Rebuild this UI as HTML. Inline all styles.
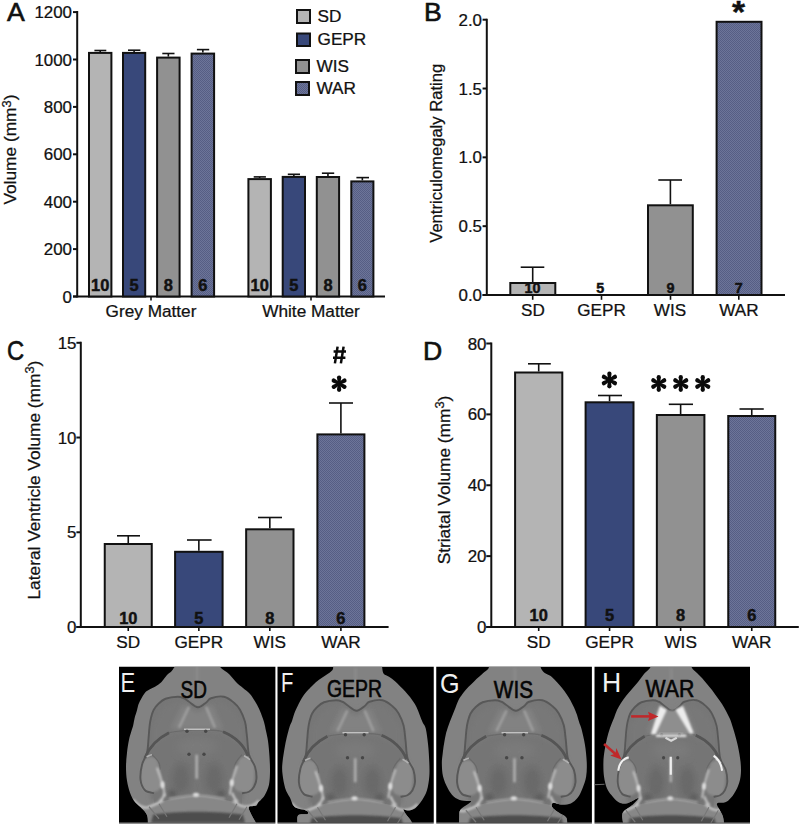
<!DOCTYPE html><html><head><meta charset="utf-8"><style>html,body{margin:0;padding:0;background:#fff;}svg{display:block;}text{font-family:"Liberation Sans", sans-serif;}</style></head><body>
<svg width="800" height="824" viewBox="0 0 800 824">
<defs>
<pattern id="hatch" width="2" height="2" patternUnits="userSpaceOnUse">
<rect width="2" height="2" fill="#6d7599"/>
<rect width="1" height="1" fill="#565e84"/><rect x="1" y="1" width="1" height="1" fill="#565e84"/>
</pattern>
<filter id="soft" filterUnits="userSpaceOnUse" x="-20" y="-20" width="200" height="200"><feGaussianBlur stdDeviation="0.6"/></filter>
<filter id="blur1" filterUnits="userSpaceOnUse" x="-20" y="-20" width="200" height="200"><feGaussianBlur stdDeviation="1"/></filter>
<filter id="blur2" filterUnits="userSpaceOnUse" x="-20" y="-20" width="200" height="200"><feGaussianBlur stdDeviation="2"/></filter>
<filter id="blur3" filterUnits="userSpaceOnUse" x="-20" y="-20" width="200" height="200"><feGaussianBlur stdDeviation="4"/></filter>
</defs>
<rect width="800" height="824" fill="#fff"/>
<text transform="translate(7,21) scale(1.025,1)" font-size="26" text-anchor="start" font-weight="normal" fill="#111" stroke="#111" stroke-width="0.6" >A</text>
<line x1="77.2" y1="11.1" x2="77.2" y2="297.5" stroke="#111" stroke-width="2"/>
<line x1="73" y1="296.5" x2="77.2" y2="296.5" stroke="#111" stroke-width="2"/>
<text transform="translate(72,302.6) scale(1.025,1)" font-size="16.5" text-anchor="end" font-weight="normal" fill="#111" stroke="#111" stroke-width="0.25" >0</text>
<line x1="73" y1="249.1" x2="77.2" y2="249.1" stroke="#111" stroke-width="2"/>
<text transform="translate(72,255.2) scale(1.025,1)" font-size="16.5" text-anchor="end" font-weight="normal" fill="#111" stroke="#111" stroke-width="0.25" >200</text>
<line x1="73" y1="201.7" x2="77.2" y2="201.7" stroke="#111" stroke-width="2"/>
<text transform="translate(72,207.79999999999998) scale(1.025,1)" font-size="16.5" text-anchor="end" font-weight="normal" fill="#111" stroke="#111" stroke-width="0.25" >400</text>
<line x1="73" y1="154.3" x2="77.2" y2="154.3" stroke="#111" stroke-width="2"/>
<text transform="translate(72,160.4) scale(1.025,1)" font-size="16.5" text-anchor="end" font-weight="normal" fill="#111" stroke="#111" stroke-width="0.25" >600</text>
<line x1="73" y1="106.9" x2="77.2" y2="106.9" stroke="#111" stroke-width="2"/>
<text transform="translate(72,113.0) scale(1.025,1)" font-size="16.5" text-anchor="end" font-weight="normal" fill="#111" stroke="#111" stroke-width="0.25" >800</text>
<line x1="73" y1="59.5" x2="77.2" y2="59.5" stroke="#111" stroke-width="2"/>
<text transform="translate(72,65.6) scale(1.025,1)" font-size="16.5" text-anchor="end" font-weight="normal" fill="#111" stroke="#111" stroke-width="0.25" >1000</text>
<line x1="73" y1="12.100000000000023" x2="77.2" y2="12.100000000000023" stroke="#111" stroke-width="2"/>
<text transform="translate(72,18.200000000000024) scale(1.025,1)" font-size="16.5" text-anchor="end" font-weight="normal" fill="#111" stroke="#111" stroke-width="0.25" >1200</text>
<line x1="73" y1="296.5" x2="385" y2="296.5" stroke="#111" stroke-width="2"/>
<line x1="151" y1="296.5" x2="151" y2="300.5" stroke="#111" stroke-width="1.6"/>
<line x1="311" y1="296.5" x2="311" y2="300.5" stroke="#111" stroke-width="1.6"/>
<line x1="100.2" y1="51.9" x2="100.2" y2="50.5" stroke="#111" stroke-width="1.6"/>
<line x1="94.4" y1="50.5" x2="106.3" y2="50.5" stroke="#111" stroke-width="1.6"/>
<rect x="89.0" y="52.9" width="22.400000000000006" height="243.6" fill="#b4b4b4" stroke="#111" stroke-width="2"/>
<text transform="translate(100.2,291) scale(1.025,1)" font-size="16" text-anchor="middle" font-weight="bold" fill="#111" stroke="#111" stroke-width="0.45" >10</text>
<line x1="134.1" y1="51.9" x2="134.1" y2="50.2" stroke="#111" stroke-width="1.6"/>
<line x1="128" y1="50.2" x2="140.4" y2="50.2" stroke="#111" stroke-width="1.6"/>
<rect x="123.0" y="52.9" width="22.19999999999999" height="243.6" fill="#38487a" stroke="#111" stroke-width="2"/>
<text transform="translate(134.1,291) scale(1.025,1)" font-size="16" text-anchor="middle" font-weight="bold" fill="#111" stroke="#111" stroke-width="0.45" >5</text>
<line x1="168.35" y1="56.6" x2="168.35" y2="53.5" stroke="#111" stroke-width="1.6"/>
<line x1="162.3" y1="53.5" x2="174.5" y2="53.5" stroke="#111" stroke-width="1.6"/>
<rect x="157.1" y="57.6" width="22.5" height="238.9" fill="#919191" stroke="#111" stroke-width="2"/>
<text transform="translate(168.35,291) scale(1.025,1)" font-size="16" text-anchor="middle" font-weight="bold" fill="#111" stroke="#111" stroke-width="0.45" >8</text>
<line x1="202.85" y1="52.6" x2="202.85" y2="49.6" stroke="#111" stroke-width="1.6"/>
<line x1="196.9" y1="49.6" x2="209.2" y2="49.6" stroke="#111" stroke-width="1.6"/>
<rect x="191.6" y="53.6" width="22.5" height="242.9" fill="url(#hatch)" stroke="#111" stroke-width="2"/>
<text transform="translate(202.85,291) scale(1.025,1)" font-size="16" text-anchor="middle" font-weight="bold" fill="#111" stroke="#111" stroke-width="0.45" >6</text>
<line x1="259.65" y1="178.1" x2="259.65" y2="176.9" stroke="#111" stroke-width="1.6"/>
<line x1="253.7" y1="176.9" x2="265.9" y2="176.9" stroke="#111" stroke-width="1.6"/>
<rect x="248.4" y="179.1" width="22.49999999999997" height="117.4" fill="#b4b4b4" stroke="#111" stroke-width="2"/>
<text transform="translate(259.65,291) scale(1.025,1)" font-size="16" text-anchor="middle" font-weight="bold" fill="#111" stroke="#111" stroke-width="0.45" >10</text>
<line x1="293.85" y1="175.9" x2="293.85" y2="174.3" stroke="#111" stroke-width="1.6"/>
<line x1="287.8" y1="174.3" x2="300" y2="174.3" stroke="#111" stroke-width="1.6"/>
<rect x="282.7" y="176.9" width="22.30000000000001" height="119.6" fill="#38487a" stroke="#111" stroke-width="2"/>
<text transform="translate(293.85,291) scale(1.025,1)" font-size="16" text-anchor="middle" font-weight="bold" fill="#111" stroke="#111" stroke-width="0.45" >5</text>
<line x1="327.95000000000005" y1="176" x2="327.95000000000005" y2="173.2" stroke="#111" stroke-width="1.6"/>
<line x1="321.9" y1="173.2" x2="334.2" y2="173.2" stroke="#111" stroke-width="1.6"/>
<rect x="316.8" y="177.0" width="22.30000000000001" height="119.5" fill="#919191" stroke="#111" stroke-width="2"/>
<text transform="translate(327.95000000000005,291) scale(1.025,1)" font-size="16" text-anchor="middle" font-weight="bold" fill="#111" stroke="#111" stroke-width="0.45" >8</text>
<line x1="362.35" y1="180.4" x2="362.35" y2="177.6" stroke="#111" stroke-width="1.6"/>
<line x1="356.4" y1="177.6" x2="369" y2="177.6" stroke="#111" stroke-width="1.6"/>
<rect x="351.3" y="181.4" width="22.099999999999966" height="115.1" fill="url(#hatch)" stroke="#111" stroke-width="2"/>
<text transform="translate(362.35,291) scale(1.025,1)" font-size="16" text-anchor="middle" font-weight="bold" fill="#111" stroke="#111" stroke-width="0.45" >6</text>
<text transform="translate(151,316.5) scale(1.025,1)" font-size="16.8" text-anchor="middle" font-weight="normal" fill="#111" stroke="#111" stroke-width="0.25" >Grey Matter</text>
<text transform="translate(311,316.5) scale(1.025,1)" font-size="16.8" text-anchor="middle" font-weight="normal" fill="#111" stroke="#111" stroke-width="0.25" >White Matter</text>
<text transform="translate(16.2,149.6) rotate(-90) scale(1.03,1)" x="0" y="0" font-size="16.8" text-anchor="middle" fill="#111" stroke="#111" stroke-width="0.25">Volume (mm<tspan font-size="12.5" dy="-5.6">3</tspan><tspan dy="5.6">)</tspan></text>
<rect x="297" y="10" width="13" height="13" fill="#b4b4b4" stroke="#111" stroke-width="2"/>
<text transform="translate(317.5,21.5) scale(1.025,1)" font-size="16.8" text-anchor="start" font-weight="normal" fill="#111" stroke="#111" stroke-width="0.25" >SD</text>
<rect x="297" y="33.5" width="13" height="12.5" fill="#38487a" stroke="#111" stroke-width="2"/>
<text transform="translate(317.5,44.5) scale(1.025,1)" font-size="16.8" text-anchor="start" font-weight="normal" fill="#111" stroke="#111" stroke-width="0.25" >GEPR</text>
<rect x="296" y="60" width="13" height="13" fill="#919191" stroke="#111" stroke-width="2"/>
<text transform="translate(316.5,71.5) scale(1.025,1)" font-size="16.8" text-anchor="start" font-weight="normal" fill="#111" stroke="#111" stroke-width="0.25" >WIS</text>
<rect x="296" y="82" width="13" height="13" fill="url(#hatch)" stroke="#111" stroke-width="2"/>
<text transform="translate(316.5,93.5) scale(1.025,1)" font-size="16.8" text-anchor="start" font-weight="normal" fill="#111" stroke="#111" stroke-width="0.25" >WAR</text>
<text transform="translate(424,21) scale(1.025,1)" font-size="26" text-anchor="start" font-weight="normal" fill="#111" stroke="#111" stroke-width="0.6" >B</text>
<line x1="486.8" y1="18.7" x2="486.8" y2="296" stroke="#111" stroke-width="2"/>
<line x1="482.6" y1="295.0" x2="486.8" y2="295.0" stroke="#111" stroke-width="2"/>
<text transform="translate(482,301.1) scale(1.025,1)" font-size="16.5" text-anchor="end" font-weight="normal" fill="#111" stroke="#111" stroke-width="0.25" >0.0</text>
<line x1="482.6" y1="226.175" x2="486.8" y2="226.175" stroke="#111" stroke-width="2"/>
<text transform="translate(482,232.275) scale(1.025,1)" font-size="16.5" text-anchor="end" font-weight="normal" fill="#111" stroke="#111" stroke-width="0.25" >0.5</text>
<line x1="482.6" y1="157.35" x2="486.8" y2="157.35" stroke="#111" stroke-width="2"/>
<text transform="translate(482,163.45) scale(1.025,1)" font-size="16.5" text-anchor="end" font-weight="normal" fill="#111" stroke="#111" stroke-width="0.25" >1.0</text>
<line x1="482.6" y1="88.52499999999998" x2="486.8" y2="88.52499999999998" stroke="#111" stroke-width="2"/>
<text transform="translate(482,94.62499999999997) scale(1.025,1)" font-size="16.5" text-anchor="end" font-weight="normal" fill="#111" stroke="#111" stroke-width="0.25" >1.5</text>
<line x1="482.6" y1="19.69999999999999" x2="486.8" y2="19.69999999999999" stroke="#111" stroke-width="2"/>
<text transform="translate(482,25.79999999999999) scale(1.025,1)" font-size="16.5" text-anchor="end" font-weight="normal" fill="#111" stroke="#111" stroke-width="0.25" >2.0</text>
<line x1="482.6" y1="295" x2="785" y2="295" stroke="#111" stroke-width="2"/>
<line x1="532.7" y1="295" x2="532.7" y2="299.8" stroke="#111" stroke-width="1.6"/>
<line x1="601.5" y1="295" x2="601.5" y2="299.8" stroke="#111" stroke-width="1.6"/>
<line x1="670.5" y1="295" x2="670.5" y2="299.8" stroke="#111" stroke-width="1.6"/>
<line x1="738.8" y1="295" x2="738.8" y2="299.8" stroke="#111" stroke-width="1.6"/>
<line x1="532.7" y1="282" x2="532.7" y2="267.2" stroke="#111" stroke-width="1.6"/>
<line x1="520.7" y1="267.2" x2="544.3" y2="267.2" stroke="#111" stroke-width="1.6"/>
<rect x="510.3" y="283.0" width="44.99999999999994" height="12.0" fill="#b4b4b4" stroke="#111" stroke-width="2"/>
<line x1="670.4" y1="204.3" x2="670.4" y2="180" stroke="#111" stroke-width="1.6"/>
<line x1="658.3" y1="180" x2="682" y2="180" stroke="#111" stroke-width="1.6"/>
<rect x="648.0" y="205.3" width="44.799999999999955" height="89.69999999999999" fill="#919191" stroke="#111" stroke-width="2"/>
<rect x="716.6" y="21.8" width="44.89999999999998" height="273.2" fill="url(#hatch)" stroke="#111" stroke-width="2"/>
<text transform="translate(532.5,293.3) scale(1.025,1)" font-size="14" text-anchor="middle" font-weight="bold" fill="#111" stroke="#111" stroke-width="0.45" >10</text>
<text transform="translate(600.3,293.3) scale(1.025,1)" font-size="14" text-anchor="middle" font-weight="bold" fill="#111" stroke="#111" stroke-width="0.45" >5</text>
<text transform="translate(670.5,293.3) scale(1.025,1)" font-size="14" text-anchor="middle" font-weight="bold" fill="#111" stroke="#111" stroke-width="0.45" >9</text>
<text transform="translate(738.8,293.3) scale(1.025,1)" font-size="14" text-anchor="middle" font-weight="bold" fill="#111" stroke="#111" stroke-width="0.45" >7</text>
<text transform="translate(533,316.3) scale(1.025,1)" font-size="16.7" text-anchor="middle" font-weight="normal" fill="#111" stroke="#111" stroke-width="0.25" >SD</text>
<text transform="translate(601.5,316.3) scale(1.025,1)" font-size="16.7" text-anchor="middle" font-weight="normal" fill="#111" stroke="#111" stroke-width="0.25" >GEPR</text>
<text transform="translate(670,316.3) scale(1.025,1)" font-size="16.7" text-anchor="middle" font-weight="normal" fill="#111" stroke="#111" stroke-width="0.25" >WIS</text>
<text transform="translate(739,316.3) scale(1.025,1)" font-size="16.7" text-anchor="middle" font-weight="normal" fill="#111" stroke="#111" stroke-width="0.25" >WAR</text>
<text transform="translate(442,153.3) rotate(-90) scale(1.0,1)" x="0" y="0" font-size="16.6" text-anchor="middle" fill="#111" stroke="#111" stroke-width="0.25">Ventriculomegaly Rating</text>
<text transform="translate(738.6,22.5) scale(1.05,1)" font-size="32" text-anchor="middle" font-weight="bold" fill="#111" stroke="#111" stroke-width="0.45" >*</text>
<text transform="translate(6.9,360.2) scale(0.88,1)" font-size="27" text-anchor="start" font-weight="normal" fill="#111" stroke="#111" stroke-width="0.6" >C</text>
<line x1="80.8" y1="341.8" x2="80.8" y2="628" stroke="#111" stroke-width="2"/>
<line x1="76.4" y1="627.0" x2="80.8" y2="627.0" stroke="#111" stroke-width="2"/>
<text transform="translate(76.5,633.1) scale(1.025,1)" font-size="16.5" text-anchor="end" font-weight="normal" fill="#111" stroke="#111" stroke-width="0.25" >0</text>
<line x1="76.4" y1="532.2666666666667" x2="80.8" y2="532.2666666666667" stroke="#111" stroke-width="2"/>
<text transform="translate(76.5,538.3666666666667) scale(1.025,1)" font-size="16.5" text-anchor="end" font-weight="normal" fill="#111" stroke="#111" stroke-width="0.25" >5</text>
<line x1="76.4" y1="437.53333333333336" x2="80.8" y2="437.53333333333336" stroke="#111" stroke-width="2"/>
<text transform="translate(76.5,443.6333333333334) scale(1.025,1)" font-size="16.5" text-anchor="end" font-weight="normal" fill="#111" stroke="#111" stroke-width="0.25" >10</text>
<line x1="76.4" y1="342.8" x2="80.8" y2="342.8" stroke="#111" stroke-width="2"/>
<text transform="translate(76.5,348.90000000000003) scale(1.025,1)" font-size="16.5" text-anchor="end" font-weight="normal" fill="#111" stroke="#111" stroke-width="0.25" >15</text>
<line x1="76.4" y1="627" x2="388.6" y2="627" stroke="#111" stroke-width="2"/>
<line x1="128.25" y1="543" x2="128.25" y2="535.8" stroke="#111" stroke-width="1.6"/>
<line x1="117" y1="535.8" x2="140" y2="535.8" stroke="#111" stroke-width="1.6"/>
<rect x="104.75" y="544.0" width="47.0" height="83.0" fill="#b4b4b4" stroke="#111" stroke-width="2"/>
<text transform="translate(128.25,623.8) scale(1.025,1)" font-size="16" text-anchor="middle" font-weight="bold" fill="#111" stroke="#111" stroke-width="0.45" >10</text>
<line x1="128.25" y1="627" x2="128.25" y2="631" stroke="#111" stroke-width="1.6"/>
<text transform="translate(128.25,647.6) scale(1.025,1)" font-size="16.8" text-anchor="middle" font-weight="normal" fill="#111" stroke="#111" stroke-width="0.25" >SD</text>
<line x1="198.85" y1="550.8" x2="198.85" y2="540" stroke="#111" stroke-width="1.6"/>
<line x1="187" y1="540" x2="211.6" y2="540" stroke="#111" stroke-width="1.6"/>
<rect x="175.1" y="551.8" width="47.5" height="75.20000000000005" fill="#38487a" stroke="#111" stroke-width="2"/>
<text transform="translate(198.85,623.8) scale(1.025,1)" font-size="16" text-anchor="middle" font-weight="bold" fill="#111" stroke="#111" stroke-width="0.45" >5</text>
<line x1="198.85" y1="627" x2="198.85" y2="631" stroke="#111" stroke-width="1.6"/>
<text transform="translate(198.85,647.6) scale(1.025,1)" font-size="16.8" text-anchor="middle" font-weight="normal" fill="#111" stroke="#111" stroke-width="0.25" >GEPR</text>
<line x1="269.825" y1="528.3" x2="269.825" y2="517.5" stroke="#111" stroke-width="1.6"/>
<line x1="258" y1="517.5" x2="282" y2="517.5" stroke="#111" stroke-width="1.6"/>
<rect x="246.15" y="529.3" width="47.349999999999994" height="97.70000000000005" fill="#919191" stroke="#111" stroke-width="2"/>
<text transform="translate(269.825,623.8) scale(1.025,1)" font-size="16" text-anchor="middle" font-weight="bold" fill="#111" stroke="#111" stroke-width="0.45" >8</text>
<line x1="269.825" y1="627" x2="269.825" y2="631" stroke="#111" stroke-width="1.6"/>
<text transform="translate(269.825,647.6) scale(1.025,1)" font-size="16.8" text-anchor="middle" font-weight="normal" fill="#111" stroke="#111" stroke-width="0.25" >WIS</text>
<line x1="340.9" y1="433.4" x2="340.9" y2="403" stroke="#111" stroke-width="1.6"/>
<line x1="329" y1="403" x2="353" y2="403" stroke="#111" stroke-width="1.6"/>
<rect x="317.4" y="434.4" width="47.0" height="192.60000000000002" fill="url(#hatch)" stroke="#111" stroke-width="2"/>
<text transform="translate(340.9,623.8) scale(1.025,1)" font-size="16" text-anchor="middle" font-weight="bold" fill="#111" stroke="#111" stroke-width="0.45" >6</text>
<line x1="340.9" y1="627" x2="340.9" y2="631" stroke="#111" stroke-width="1.6"/>
<text transform="translate(340.9,647.6) scale(1.025,1)" font-size="16.8" text-anchor="middle" font-weight="normal" fill="#111" stroke="#111" stroke-width="0.25" >WAR</text>
<text transform="translate(40,480.1) rotate(-90) scale(1.03,1)" x="0" y="0" font-size="16.8" text-anchor="middle" fill="#111" stroke="#111" stroke-width="0.25">Lateral Ventricle Volume (mm<tspan font-size="12.5" dy="-5.6">3</tspan><tspan dy="5.6">)</tspan></text>
<path d="M337.6,346.6 L334.9,363.4 M343.6,346.6 L340.9,363.4 M333.6,351.6 L346,351.6 M333,357.8 L345.4,357.8" stroke="#0a0a0a" stroke-width="2.5" fill="none"/>
<g transform="translate(339.1,383.7)" fill="#0a0a0a"><path d="M-1.25,0 L-2.15,-6.15 A2.15,2.15 0 0 1 2.15,-6.15 L1.25,0 Z" transform="rotate(0)"/><path d="M-1.25,0 L-2.15,-6.15 A2.15,2.15 0 0 1 2.15,-6.15 L1.25,0 Z" transform="rotate(60)"/><path d="M-1.25,0 L-2.15,-6.15 A2.15,2.15 0 0 1 2.15,-6.15 L1.25,0 Z" transform="rotate(120)"/><path d="M-1.25,0 L-2.15,-6.15 A2.15,2.15 0 0 1 2.15,-6.15 L1.25,0 Z" transform="rotate(180)"/><path d="M-1.25,0 L-2.15,-6.15 A2.15,2.15 0 0 1 2.15,-6.15 L1.25,0 Z" transform="rotate(240)"/><path d="M-1.25,0 L-2.15,-6.15 A2.15,2.15 0 0 1 2.15,-6.15 L1.25,0 Z" transform="rotate(300)"/></g>
<text transform="translate(423,360) scale(1.025,1)" font-size="26" text-anchor="start" font-weight="normal" fill="#111" stroke="#111" stroke-width="0.6" >D</text>
<line x1="491.3" y1="342.5" x2="491.3" y2="628" stroke="#111" stroke-width="2"/>
<line x1="486.3" y1="627.0" x2="491.3" y2="627.0" stroke="#111" stroke-width="2"/>
<text transform="translate(486.5,633.1) scale(1.025,1)" font-size="16.5" text-anchor="end" font-weight="normal" fill="#111" stroke="#111" stroke-width="0.25" >0</text>
<line x1="486.3" y1="556.125" x2="491.3" y2="556.125" stroke="#111" stroke-width="2"/>
<text transform="translate(486.5,562.225) scale(1.025,1)" font-size="16.5" text-anchor="end" font-weight="normal" fill="#111" stroke="#111" stroke-width="0.25" >20</text>
<line x1="486.3" y1="485.25" x2="491.3" y2="485.25" stroke="#111" stroke-width="2"/>
<text transform="translate(486.5,491.35) scale(1.025,1)" font-size="16.5" text-anchor="end" font-weight="normal" fill="#111" stroke="#111" stroke-width="0.25" >40</text>
<line x1="486.3" y1="414.375" x2="491.3" y2="414.375" stroke="#111" stroke-width="2"/>
<text transform="translate(486.5,420.475) scale(1.025,1)" font-size="16.5" text-anchor="end" font-weight="normal" fill="#111" stroke="#111" stroke-width="0.25" >60</text>
<line x1="486.3" y1="343.5" x2="491.3" y2="343.5" stroke="#111" stroke-width="2"/>
<text transform="translate(486.5,349.6) scale(1.025,1)" font-size="16.5" text-anchor="end" font-weight="normal" fill="#111" stroke="#111" stroke-width="0.25" >80</text>
<line x1="486.3" y1="627" x2="798.8" y2="627" stroke="#111" stroke-width="2"/>
<line x1="538.7" y1="371.5" x2="538.7" y2="363.8" stroke="#111" stroke-width="1.6"/>
<line x1="528" y1="363.8" x2="550.8" y2="363.8" stroke="#111" stroke-width="1.6"/>
<rect x="515.1" y="372.5" width="47.19999999999993" height="254.5" fill="#b4b4b4" stroke="#111" stroke-width="2"/>
<text transform="translate(538.7,621) scale(1.025,1)" font-size="16" text-anchor="middle" font-weight="bold" fill="#111" stroke="#111" stroke-width="0.45" >10</text>
<line x1="538.7" y1="627" x2="538.7" y2="631" stroke="#111" stroke-width="1.6"/>
<text transform="translate(538.7,647.7) scale(1.025,1)" font-size="16.8" text-anchor="middle" font-weight="normal" fill="#111" stroke="#111" stroke-width="0.25" >SD</text>
<line x1="609.55" y1="401.3" x2="609.55" y2="395.5" stroke="#111" stroke-width="1.6"/>
<line x1="598" y1="395.5" x2="622" y2="395.5" stroke="#111" stroke-width="1.6"/>
<rect x="585.6" y="402.3" width="47.89999999999998" height="224.7" fill="#38487a" stroke="#111" stroke-width="2"/>
<text transform="translate(609.55,621) scale(1.025,1)" font-size="16" text-anchor="middle" font-weight="bold" fill="#111" stroke="#111" stroke-width="0.45" >5</text>
<line x1="609.55" y1="627" x2="609.55" y2="631" stroke="#111" stroke-width="1.6"/>
<text transform="translate(609.55,647.7) scale(1.025,1)" font-size="16.8" text-anchor="middle" font-weight="normal" fill="#111" stroke="#111" stroke-width="0.25" >GEPR</text>
<line x1="680.625" y1="414" x2="680.625" y2="404.3" stroke="#111" stroke-width="1.6"/>
<line x1="668.8" y1="404.3" x2="693" y2="404.3" stroke="#111" stroke-width="1.6"/>
<rect x="656.85" y="415.0" width="47.549999999999955" height="212.0" fill="#919191" stroke="#111" stroke-width="2"/>
<text transform="translate(680.625,621) scale(1.025,1)" font-size="16" text-anchor="middle" font-weight="bold" fill="#111" stroke="#111" stroke-width="0.45" >8</text>
<line x1="680.625" y1="627" x2="680.625" y2="631" stroke="#111" stroke-width="1.6"/>
<text transform="translate(680.625,647.7) scale(1.025,1)" font-size="16.8" text-anchor="middle" font-weight="normal" fill="#111" stroke="#111" stroke-width="0.25" >WIS</text>
<line x1="751.75" y1="415" x2="751.75" y2="409" stroke="#111" stroke-width="1.6"/>
<line x1="739.5" y1="409" x2="763.8" y2="409" stroke="#111" stroke-width="1.6"/>
<rect x="728.25" y="416.0" width="47.0" height="211.0" fill="url(#hatch)" stroke="#111" stroke-width="2"/>
<text transform="translate(751.75,621) scale(1.025,1)" font-size="16" text-anchor="middle" font-weight="bold" fill="#111" stroke="#111" stroke-width="0.45" >6</text>
<line x1="751.75" y1="627" x2="751.75" y2="631" stroke="#111" stroke-width="1.6"/>
<text transform="translate(751.75,647.7) scale(1.025,1)" font-size="16.8" text-anchor="middle" font-weight="normal" fill="#111" stroke="#111" stroke-width="0.25" >WAR</text>
<text transform="translate(450,480) rotate(-90) scale(1.03,1)" x="0" y="0" font-size="16.8" text-anchor="middle" fill="#111" stroke="#111" stroke-width="0.25">Striatal Volume (mm<tspan font-size="12.5" dy="-5.6">3</tspan><tspan dy="5.6">)</tspan></text>
<g transform="translate(609.4,380)" fill="#0a0a0a"><path d="M-1.25,0 L-2.15,-6.35 A2.15,2.15 0 0 1 2.15,-6.35 L1.25,0 Z" transform="rotate(0)"/><path d="M-1.25,0 L-2.15,-6.35 A2.15,2.15 0 0 1 2.15,-6.35 L1.25,0 Z" transform="rotate(60)"/><path d="M-1.25,0 L-2.15,-6.35 A2.15,2.15 0 0 1 2.15,-6.35 L1.25,0 Z" transform="rotate(120)"/><path d="M-1.25,0 L-2.15,-6.35 A2.15,2.15 0 0 1 2.15,-6.35 L1.25,0 Z" transform="rotate(180)"/><path d="M-1.25,0 L-2.15,-6.35 A2.15,2.15 0 0 1 2.15,-6.35 L1.25,0 Z" transform="rotate(240)"/><path d="M-1.25,0 L-2.15,-6.35 A2.15,2.15 0 0 1 2.15,-6.35 L1.25,0 Z" transform="rotate(300)"/></g>
<g transform="translate(658.75,383.5)" fill="#0a0a0a"><path d="M-1.25,0 L-2.15,-6.25 A2.15,2.15 0 0 1 2.15,-6.25 L1.25,0 Z" transform="rotate(0)"/><path d="M-1.25,0 L-2.15,-6.25 A2.15,2.15 0 0 1 2.15,-6.25 L1.25,0 Z" transform="rotate(60)"/><path d="M-1.25,0 L-2.15,-6.25 A2.15,2.15 0 0 1 2.15,-6.25 L1.25,0 Z" transform="rotate(120)"/><path d="M-1.25,0 L-2.15,-6.25 A2.15,2.15 0 0 1 2.15,-6.25 L1.25,0 Z" transform="rotate(180)"/><path d="M-1.25,0 L-2.15,-6.25 A2.15,2.15 0 0 1 2.15,-6.25 L1.25,0 Z" transform="rotate(240)"/><path d="M-1.25,0 L-2.15,-6.25 A2.15,2.15 0 0 1 2.15,-6.25 L1.25,0 Z" transform="rotate(300)"/></g>
<g transform="translate(680.75,383.5)" fill="#0a0a0a"><path d="M-1.25,0 L-2.15,-6.25 A2.15,2.15 0 0 1 2.15,-6.25 L1.25,0 Z" transform="rotate(0)"/><path d="M-1.25,0 L-2.15,-6.25 A2.15,2.15 0 0 1 2.15,-6.25 L1.25,0 Z" transform="rotate(60)"/><path d="M-1.25,0 L-2.15,-6.25 A2.15,2.15 0 0 1 2.15,-6.25 L1.25,0 Z" transform="rotate(120)"/><path d="M-1.25,0 L-2.15,-6.25 A2.15,2.15 0 0 1 2.15,-6.25 L1.25,0 Z" transform="rotate(180)"/><path d="M-1.25,0 L-2.15,-6.25 A2.15,2.15 0 0 1 2.15,-6.25 L1.25,0 Z" transform="rotate(240)"/><path d="M-1.25,0 L-2.15,-6.25 A2.15,2.15 0 0 1 2.15,-6.25 L1.25,0 Z" transform="rotate(300)"/></g>
<g transform="translate(702.75,383.5)" fill="#0a0a0a"><path d="M-1.25,0 L-2.15,-6.25 A2.15,2.15 0 0 1 2.15,-6.25 L1.25,0 Z" transform="rotate(0)"/><path d="M-1.25,0 L-2.15,-6.25 A2.15,2.15 0 0 1 2.15,-6.25 L1.25,0 Z" transform="rotate(60)"/><path d="M-1.25,0 L-2.15,-6.25 A2.15,2.15 0 0 1 2.15,-6.25 L1.25,0 Z" transform="rotate(120)"/><path d="M-1.25,0 L-2.15,-6.25 A2.15,2.15 0 0 1 2.15,-6.25 L1.25,0 Z" transform="rotate(180)"/><path d="M-1.25,0 L-2.15,-6.25 A2.15,2.15 0 0 1 2.15,-6.25 L1.25,0 Z" transform="rotate(240)"/><path d="M-1.25,0 L-2.15,-6.25 A2.15,2.15 0 0 1 2.15,-6.25 L1.25,0 Z" transform="rotate(300)"/></g>
<rect x="119" y="666.75" width="156.39999999999998" height="156.05" fill="#000"/>
<rect x="119" y="822.8" width="156.39999999999998" height="1.2" fill="#8e8e8e"/>
<svg x="119" y="666.75" width="156.39999999999998" height="156.05" overflow="hidden"><g transform="translate(0,0) scale(1.0,1)">
<clipPath id="clipE"><path d="M101.0,-2.0 C101.2,-1.5 100.5,-0.3 102.0,1.2 C103.5,2.8 107.5,4.9 110.0,7.2 C112.5,9.6 114.7,12.9 117.0,15.2 C119.3,17.6 121.7,19.2 124.0,21.2 C126.3,23.2 128.8,24.8 131.0,27.2 C133.2,29.8 135.3,33.4 137.0,36.2 C138.7,39.1 139.7,41.1 141.0,44.2 C142.3,47.4 144.0,51.9 145.0,55.2 C146.0,58.6 146.3,61.1 147.0,64.2 C147.7,67.4 148.4,70.0 149.0,74.2 C149.6,78.5 150.2,84.9 150.5,90.0 C150.8,95.1 151.1,100.3 151.0,105.0 C150.9,109.7 150.8,114.2 150.0,118.0 C149.2,121.8 147.3,125.5 146.0,128.0 C144.7,130.5 143.2,131.7 142.0,133.0 C140.8,134.3 139.8,135.0 139.0,136.0 C138.2,137.0 138.5,138.3 137.0,139.0 C135.5,139.7 131.0,139.0 130.0,140.0 C129.0,141.0 130.3,143.2 131.0,145.0 C131.7,146.8 132.8,148.8 134.0,151.0 C135.2,153.2 137.3,156.8 138.0,158.0 L29,158 C28.9,156.7 29.0,152.2 28.5,150.0 C28.0,147.8 27.2,146.7 26.0,145.0 C24.8,143.3 22.8,141.8 21.0,140.0 C19.2,138.2 16.7,136.3 15.0,134.0 C13.3,131.7 12.2,129.3 11.0,126.0 C9.8,122.7 8.7,118.3 8.0,114.0 C7.3,109.7 7.0,104.7 7.0,100.0 C7.0,95.3 7.5,90.5 8.0,86.0 C8.5,81.5 9.2,76.7 10.0,73.0 C10.8,69.3 11.8,66.4 12.5,64.0 C13.2,61.6 13.7,60.7 14.2,58.5 C14.7,56.3 15.1,53.5 15.7,51.0 C16.3,48.5 17.4,45.8 18.0,43.5 C18.6,41.2 18.8,39.5 19.5,37.5 C20.2,35.5 21.4,33.4 22.5,31.5 C23.6,29.6 24.8,27.4 26.0,26.0 C27.2,24.6 28.3,24.0 30.0,23.0 C31.7,22.0 34.0,21.2 36.0,20.0 C38.0,18.8 40.5,17.0 42.0,15.7 C43.5,14.4 44.0,13.2 45.0,12.0 C46.0,10.8 46.8,9.4 48.0,8.2 C49.2,6.9 51.3,5.7 52.5,4.5 C53.7,3.3 54.2,2.1 55.0,1.0 C55.8,-0.1 56.7,-1.5 57.0,-2.0Z"/></clipPath>
<g filter="url(#soft)">
<path d="M101.0,-2.0 C101.2,-1.5 100.5,-0.3 102.0,1.2 C103.5,2.8 107.5,4.9 110.0,7.2 C112.5,9.6 114.7,12.9 117.0,15.2 C119.3,17.6 121.7,19.2 124.0,21.2 C126.3,23.2 128.8,24.8 131.0,27.2 C133.2,29.8 135.3,33.4 137.0,36.2 C138.7,39.1 139.7,41.1 141.0,44.2 C142.3,47.4 144.0,51.9 145.0,55.2 C146.0,58.6 146.3,61.1 147.0,64.2 C147.7,67.4 148.4,70.0 149.0,74.2 C149.6,78.5 150.2,84.9 150.5,90.0 C150.8,95.1 151.1,100.3 151.0,105.0 C150.9,109.7 150.8,114.2 150.0,118.0 C149.2,121.8 147.3,125.5 146.0,128.0 C144.7,130.5 143.2,131.7 142.0,133.0 C140.8,134.3 139.8,135.0 139.0,136.0 C138.2,137.0 138.5,138.3 137.0,139.0 C135.5,139.7 131.0,139.0 130.0,140.0 C129.0,141.0 130.3,143.2 131.0,145.0 C131.7,146.8 132.8,148.8 134.0,151.0 C135.2,153.2 137.3,156.8 138.0,158.0 L29,158 C28.9,156.7 29.0,152.2 28.5,150.0 C28.0,147.8 27.2,146.7 26.0,145.0 C24.8,143.3 22.8,141.8 21.0,140.0 C19.2,138.2 16.7,136.3 15.0,134.0 C13.3,131.7 12.2,129.3 11.0,126.0 C9.8,122.7 8.7,118.3 8.0,114.0 C7.3,109.7 7.0,104.7 7.0,100.0 C7.0,95.3 7.5,90.5 8.0,86.0 C8.5,81.5 9.2,76.7 10.0,73.0 C10.8,69.3 11.8,66.4 12.5,64.0 C13.2,61.6 13.7,60.7 14.2,58.5 C14.7,56.3 15.1,53.5 15.7,51.0 C16.3,48.5 17.4,45.8 18.0,43.5 C18.6,41.2 18.8,39.5 19.5,37.5 C20.2,35.5 21.4,33.4 22.5,31.5 C23.6,29.6 24.8,27.4 26.0,26.0 C27.2,24.6 28.3,24.0 30.0,23.0 C31.7,22.0 34.0,21.2 36.0,20.0 C38.0,18.8 40.5,17.0 42.0,15.7 C43.5,14.4 44.0,13.2 45.0,12.0 C46.0,10.8 46.8,9.4 48.0,8.2 C49.2,6.9 51.3,5.7 52.5,4.5 C53.7,3.3 54.2,2.1 55.0,1.0 C55.8,-0.1 56.7,-1.5 57.0,-2.0Z" fill="#828282"/>
<g clip-path="url(#clipE)"><g transform="">
<path d="M35.0,126.5 C33.5,126.0 28.2,125.8 26.0,123.5 C23.8,121.2 22.0,117.2 21.5,113.0 C21.0,108.8 21.9,102.5 23.0,98.0 C24.1,93.5 26.9,90.3 28.0,86.0 C29.1,81.7 29.1,76.3 29.5,72.0 C29.9,67.7 30.1,63.5 30.5,60.0 C30.9,56.5 31.3,53.8 32.0,51.0 C32.7,48.2 33.3,45.8 34.5,43.5 C35.7,41.2 37.0,39.4 39.0,37.5 C41.0,35.6 43.2,33.2 46.5,32.0 C49.8,30.8 55.4,30.1 58.5,30.0 C61.6,29.9 63.1,30.7 65.0,31.5 C66.9,32.3 67.7,33.5 70.0,35.0 C72.3,36.5 76.2,40.3 79.0,40.5 C81.8,40.7 84.8,37.5 87.0,36.0 C89.2,34.5 89.0,32.5 92.0,31.5 C95.0,30.5 101.2,29.2 105.0,30.0 C108.8,30.8 112.3,33.8 115.0,36.0 C117.7,38.2 119.2,39.8 121.0,43.0 C122.8,46.2 124.8,50.5 126.0,55.0 C127.2,59.5 127.3,64.5 128.0,70.0 C128.7,75.5 128.7,83.0 130.0,88.0 C131.3,93.0 134.8,96.0 136.0,100.0 C137.2,104.0 137.7,108.7 137.5,112.0 C137.3,115.3 136.2,117.8 135.0,120.0 C133.8,122.2 132.0,123.9 130.0,125.0 C128.0,126.1 124.2,126.2 123.0,126.5 L123,140 L35,140 Z" fill="#767676"/>
<path d="M34,60 C40,40 55,33 66,34 L79,41 L91,34 C104,33 118,40 124,60 L124,80 L34,80 Z" fill="#787878" filter="url(#blur2)"/>
<path d="M27,92 C34,74 52,66 78,64 C104,66 122,74 130,92 L124,134 L32,134 Z" fill="#757575" filter="url(#blur2)"/>
<ellipse cx="62" cy="112" rx="9" ry="16" fill="#696969" filter="url(#blur3)"/>
<ellipse cx="95" cy="112" rx="9" ry="16" fill="#696969" filter="url(#blur3)"/>
<ellipse cx="53" cy="127" rx="5" ry="4" fill="#5e5e5e" filter="url(#blur2)"/>
<ellipse cx="102" cy="127" rx="5" ry="4" fill="#5e5e5e" filter="url(#blur2)"/>
<ellipse cx="78" cy="80" rx="20" ry="9" fill="#7a7a7a" filter="url(#blur3)"/>
<path d="M23,96 C26,90 32,88 37,92 C41,98 42,112 42,120 C40,126 30,127 25,124 C21,118 21,104 23,96 Z" fill="#8c8c8c" filter="url(#blur1)"/>
<path d="M135,96 C132,90 126,88 121,92 C117,98 115,112 115,120 C117,126 127,127 132,124 C136,118 136,104 135,96 Z" fill="#8c8c8c" filter="url(#blur1)"/>
<path d="M64,38 L78,46 L93,38 L104,62 L52,62 Z" fill="#828282" filter="url(#blur2)"/>
<path d="M70,40 L60,61 M87,40 L96,61" stroke="#a0a0a0" stroke-width="2.4" filter="url(#blur1)"/>
<rect x="76.5" y="-2" width="3" height="30" fill="#8a8a8a" filter="url(#blur1)"/>
<path d="M20,142 C40,134 60,130 78,129 C96,130 116,134 138,144 L140,158 L18,158 Z" fill="#878787"/>
<path d="M34,148 C55,144 100,144 124,148 L126,156 L32,156 Z" fill="#4e4e4e" filter="url(#blur1)"/>
<path d="M14,133 C18,138 22,141 28,141 C36,138 40,136 44,134 M46,127 C44,131 42,134 40,135 M113,126 C115,131 117,134 119,135 M140,134 C134,140 128,141 122,139 C118,137 116,136 114,134" fill="none" stroke="#c8c8c8" stroke-width="2.2" filter="url(#blur1)"/>
<path d="M50,132 C62,130 70,129 78,128.5 C86,129 94,130 106,132" fill="none" stroke="#b0b0b0" stroke-width="1.6" filter="url(#blur1)"/>
<path d="M30,140 L40,152 M40,137 L48,150 M118,137 L110,151 M128,140 L120,153" stroke="#777" stroke-width="1.2"/>
</g></g>
<g transform="">
<path d="M35.0,126.5 C33.5,126.0 28.2,125.8 26.0,123.5 C23.8,121.2 22.0,117.2 21.5,113.0 C21.0,108.8 21.9,102.5 23.0,98.0 C24.1,93.5 26.9,90.3 28.0,86.0 C29.1,81.7 29.1,76.3 29.5,72.0 C29.9,67.7 30.1,63.5 30.5,60.0 C30.9,56.5 31.3,53.8 32.0,51.0 C32.7,48.2 33.3,45.8 34.5,43.5 C35.7,41.2 37.0,39.4 39.0,37.5 C41.0,35.6 43.2,33.2 46.5,32.0 C49.8,30.8 55.4,30.1 58.5,30.0 C61.6,29.9 63.1,30.7 65.0,31.5 C66.9,32.3 67.7,33.5 70.0,35.0 C72.3,36.5 76.2,40.3 79.0,40.5 C81.8,40.7 84.8,37.5 87.0,36.0 C89.2,34.5 89.0,32.5 92.0,31.5 C95.0,30.5 101.2,29.2 105.0,30.0 C108.8,30.8 112.3,33.8 115.0,36.0 C117.7,38.2 119.2,39.8 121.0,43.0 C122.8,46.2 124.8,50.5 126.0,55.0 C127.2,59.5 127.3,64.5 128.0,70.0 C128.7,75.5 128.7,83.0 130.0,88.0 C131.3,93.0 134.8,96.0 136.0,100.0 C137.2,104.0 137.7,108.7 137.5,112.0 C137.3,115.3 136.2,117.8 135.0,120.0 C133.8,122.2 132.0,123.9 130.0,125.0 C128.0,126.1 124.2,126.2 123.0,126.5" fill="none" stroke="#585858" stroke-width="1.9"/>
<path d="M26,91 C30,81 38,72 50,66" fill="none" stroke="#545454" stroke-width="2.8"/>
<path d="M104,65 C116,70 125,79 129,89" fill="none" stroke="#545454" stroke-width="2.8"/>
<path d="M50,66 C62,63 94,62 104,65" fill="none" stroke="#6a6a6a" stroke-width="1.2"/>
<path d="M33,88 C38,92 42,97 41,103" fill="none" stroke="#6a6a6a" stroke-width="1.3"/>
<path d="M123,88 C119,92 115,97 115,102" fill="none" stroke="#6a6a6a" stroke-width="1.3"/>
<line x1="65" y1="62.5" x2="91" y2="62.5" stroke="#c6c6c6" stroke-width="1.4"/>
<line x1="77.7" y1="88" x2="77.7" y2="112" stroke="#b0b0b0" stroke-width="2.6" filter="url(#blur1)"/>
<circle cx="68" cy="64.5" r="1.7" fill="#474747"/>
<circle cx="86.7" cy="64.5" r="1.7" fill="#474747"/>
<circle cx="70" cy="87.5" r="1.7" fill="#474747"/>
<circle cx="85" cy="87.5" r="1.7" fill="#474747"/>
<path d="M38,101 C40,106 42,112 43.5,118 C45,123 46,127 45,129 M118,99 C116,105 114,111 113,116 C112,121 111,125 111,128" fill="none" stroke="#c2c2c2" stroke-width="2.1" filter="url(#blur1)"/>
<ellipse cx="43.5" cy="118" rx="2" ry="3.5" fill="#dedede" filter="url(#blur1)"/>
<ellipse cx="112.8" cy="116" rx="2" ry="3.5" fill="#dedede" filter="url(#blur1)"/>
<ellipse cx="77" cy="128" rx="3" ry="2" fill="#dedede" filter="url(#blur1)"/>
<path d="M27.5,90 C30,89 32,88 33,88 M125,89 C127,90 129,91 131,93" stroke="#b0b0b0" stroke-width="1.5" fill="none"/>
</g>
</g>
</g></svg>
<text x="120.60000000000001" y="691.9" font-size="27.5" fill="#f0f0f0" textLength="14.699999999999994" lengthAdjust="spacingAndGlyphs">E</text>
<text x="180.6" y="697.5" font-size="23.5" fill="#050505" stroke="#050505" stroke-width="0.6" textLength="26.30000000000001" lengthAdjust="spacingAndGlyphs">SD</text>
<rect x="277.5" y="666.75" width="156.25" height="156.05" fill="#000"/>
<rect x="277.5" y="822.8" width="156.25" height="1.2" fill="#8e8e8e"/>
<svg x="277.5" y="666.75" width="156.25" height="156.05" overflow="hidden"><g transform="translate(0,0) scale(1.0,1)">
<clipPath id="clipF"><path d="M104.8,-2.0 C104.8,-1.4 104.5,0.2 104.8,1.8 C105.0,3.2 105.1,5.6 106.2,7.0 C107.4,8.4 109.6,8.8 111.5,10.0 C113.4,11.2 115.6,12.9 117.5,14.5 C119.4,16.1 121.0,18.0 122.8,19.8 C124.5,21.5 126.4,23.2 128.0,25.0 C129.6,26.8 131.1,28.5 132.5,30.2 C133.9,32.0 135.1,33.8 136.2,35.5 C137.4,37.2 138.2,38.6 139.2,40.8 C140.2,42.9 141.2,45.8 142.2,48.2 C143.2,50.8 144.2,53.5 145.2,55.8 C146.3,58.0 147.4,58.3 148.3,62.0 C149.2,65.7 150.0,72.3 150.6,77.9 C151.2,83.5 151.6,90.2 151.8,95.5 C152.0,100.8 152.2,105.0 151.8,109.7 C151.4,114.4 150.6,119.9 149.4,123.8 C148.2,127.7 146.6,130.3 144.7,133.2 C142.8,136.1 140.0,139.6 137.7,141.4 C135.3,143.2 132.6,143.6 130.6,143.8 C128.6,144.0 126.3,142.0 125.9,142.6 C125.5,143.2 127.1,145.5 128.3,147.3 C129.5,149.1 131.8,151.4 133.0,153.2 C134.2,155.0 134.9,157.2 135.3,158.0 L20.1,158 C20.2,156.4 19.0,150.3 20.7,148.5 C22.4,146.7 28.7,148.1 30.1,147.3 C31.5,146.5 31.1,145.0 28.9,143.8 C26.7,142.6 19.9,142.4 17.1,140.2 C14.4,138.1 14.0,133.9 12.4,130.8 C10.8,127.7 8.9,125.3 7.7,121.4 C6.5,117.5 5.5,111.6 5.0,107.3 C4.5,103.0 4.5,100.4 5.0,95.5 C5.5,90.6 6.6,83.7 7.7,77.9 C8.8,72.2 10.7,64.9 11.8,61.0 C12.9,57.1 13.7,56.6 14.5,54.2 C15.3,51.9 15.9,49.1 16.8,46.8 C17.6,44.4 18.8,42.1 19.8,40.0 C20.8,37.9 21.6,36.0 22.8,34.0 C23.9,32.0 25.1,29.9 26.5,28.0 C27.9,26.1 29.5,24.4 31.0,22.8 C32.5,21.1 33.8,19.9 35.5,18.2 C37.2,16.6 39.4,14.6 41.5,13.0 C43.6,11.4 46.0,10.1 48.2,8.5 C50.5,6.9 53.8,5.0 55.0,3.2 C56.2,1.5 55.4,-1.1 55.5,-2.0Z"/></clipPath>
<g filter="url(#soft)">
<path d="M104.8,-2.0 C104.8,-1.4 104.5,0.2 104.8,1.8 C105.0,3.2 105.1,5.6 106.2,7.0 C107.4,8.4 109.6,8.8 111.5,10.0 C113.4,11.2 115.6,12.9 117.5,14.5 C119.4,16.1 121.0,18.0 122.8,19.8 C124.5,21.5 126.4,23.2 128.0,25.0 C129.6,26.8 131.1,28.5 132.5,30.2 C133.9,32.0 135.1,33.8 136.2,35.5 C137.4,37.2 138.2,38.6 139.2,40.8 C140.2,42.9 141.2,45.8 142.2,48.2 C143.2,50.8 144.2,53.5 145.2,55.8 C146.3,58.0 147.4,58.3 148.3,62.0 C149.2,65.7 150.0,72.3 150.6,77.9 C151.2,83.5 151.6,90.2 151.8,95.5 C152.0,100.8 152.2,105.0 151.8,109.7 C151.4,114.4 150.6,119.9 149.4,123.8 C148.2,127.7 146.6,130.3 144.7,133.2 C142.8,136.1 140.0,139.6 137.7,141.4 C135.3,143.2 132.6,143.6 130.6,143.8 C128.6,144.0 126.3,142.0 125.9,142.6 C125.5,143.2 127.1,145.5 128.3,147.3 C129.5,149.1 131.8,151.4 133.0,153.2 C134.2,155.0 134.9,157.2 135.3,158.0 L20.1,158 C20.2,156.4 19.0,150.3 20.7,148.5 C22.4,146.7 28.7,148.1 30.1,147.3 C31.5,146.5 31.1,145.0 28.9,143.8 C26.7,142.6 19.9,142.4 17.1,140.2 C14.4,138.1 14.0,133.9 12.4,130.8 C10.8,127.7 8.9,125.3 7.7,121.4 C6.5,117.5 5.5,111.6 5.0,107.3 C4.5,103.0 4.5,100.4 5.0,95.5 C5.5,90.6 6.6,83.7 7.7,77.9 C8.8,72.2 10.7,64.9 11.8,61.0 C12.9,57.1 13.7,56.6 14.5,54.2 C15.3,51.9 15.9,49.1 16.8,46.8 C17.6,44.4 18.8,42.1 19.8,40.0 C20.8,37.9 21.6,36.0 22.8,34.0 C23.9,32.0 25.1,29.9 26.5,28.0 C27.9,26.1 29.5,24.4 31.0,22.8 C32.5,21.1 33.8,19.9 35.5,18.2 C37.2,16.6 39.4,14.6 41.5,13.0 C43.6,11.4 46.0,10.1 48.2,8.5 C50.5,6.9 53.8,5.0 55.0,3.2 C56.2,1.5 55.4,-1.1 55.5,-2.0Z" fill="#828282"/>
<g clip-path="url(#clipF)"><g transform="translate(0,3.5)">
<path d="M35.0,126.5 C33.5,126.0 28.2,125.8 26.0,123.5 C23.8,121.2 22.0,117.2 21.5,113.0 C21.0,108.8 21.9,102.5 23.0,98.0 C24.1,93.5 26.9,90.3 28.0,86.0 C29.1,81.7 29.1,76.3 29.5,72.0 C29.9,67.7 30.1,63.5 30.5,60.0 C30.9,56.5 31.3,53.8 32.0,51.0 C32.7,48.2 33.3,45.8 34.5,43.5 C35.7,41.2 37.0,39.4 39.0,37.5 C41.0,35.6 43.2,33.2 46.5,32.0 C49.8,30.8 55.4,30.1 58.5,30.0 C61.6,29.9 63.1,30.7 65.0,31.5 C66.9,32.3 67.7,33.5 70.0,35.0 C72.3,36.5 76.2,40.3 79.0,40.5 C81.8,40.7 84.8,37.5 87.0,36.0 C89.2,34.5 89.0,32.5 92.0,31.5 C95.0,30.5 101.2,29.2 105.0,30.0 C108.8,30.8 112.3,33.8 115.0,36.0 C117.7,38.2 119.2,39.8 121.0,43.0 C122.8,46.2 124.8,50.5 126.0,55.0 C127.2,59.5 127.3,64.5 128.0,70.0 C128.7,75.5 128.7,83.0 130.0,88.0 C131.3,93.0 134.8,96.0 136.0,100.0 C137.2,104.0 137.7,108.7 137.5,112.0 C137.3,115.3 136.2,117.8 135.0,120.0 C133.8,122.2 132.0,123.9 130.0,125.0 C128.0,126.1 124.2,126.2 123.0,126.5 L123,140 L35,140 Z" fill="#767676"/>
<path d="M34,60 C40,40 55,33 66,34 L79,41 L91,34 C104,33 118,40 124,60 L124,80 L34,80 Z" fill="#787878" filter="url(#blur2)"/>
<path d="M27,92 C34,74 52,66 78,64 C104,66 122,74 130,92 L124,134 L32,134 Z" fill="#757575" filter="url(#blur2)"/>
<ellipse cx="62" cy="112" rx="9" ry="16" fill="#696969" filter="url(#blur3)"/>
<ellipse cx="95" cy="112" rx="9" ry="16" fill="#696969" filter="url(#blur3)"/>
<ellipse cx="53" cy="127" rx="5" ry="4" fill="#5e5e5e" filter="url(#blur2)"/>
<ellipse cx="102" cy="127" rx="5" ry="4" fill="#5e5e5e" filter="url(#blur2)"/>
<ellipse cx="78" cy="80" rx="20" ry="9" fill="#7a7a7a" filter="url(#blur3)"/>
<path d="M23,96 C26,90 32,88 37,92 C41,98 42,112 42,120 C40,126 30,127 25,124 C21,118 21,104 23,96 Z" fill="#8c8c8c" filter="url(#blur1)"/>
<path d="M135,96 C132,90 126,88 121,92 C117,98 115,112 115,120 C117,126 127,127 132,124 C136,118 136,104 135,96 Z" fill="#8c8c8c" filter="url(#blur1)"/>
<path d="M64,38 L78,46 L93,38 L104,62 L52,62 Z" fill="#828282" filter="url(#blur2)"/>
<path d="M70,40 L60,61 M87,40 L96,61" stroke="#a0a0a0" stroke-width="2.4" filter="url(#blur1)"/>
<rect x="76.5" y="-2" width="3" height="30" fill="#8a8a8a" filter="url(#blur1)"/>
<path d="M20,142 C40,134 60,130 78,129 C96,130 116,134 138,144 L140,158 L18,158 Z" fill="#878787"/>
<path d="M34,148 C55,144 100,144 124,148 L126,156 L32,156 Z" fill="#4e4e4e" filter="url(#blur1)"/>
<path d="M14,133 C18,138 22,141 28,141 C36,138 40,136 44,134 M46,127 C44,131 42,134 40,135 M113,126 C115,131 117,134 119,135 M140,134 C134,140 128,141 122,139 C118,137 116,136 114,134" fill="none" stroke="#c8c8c8" stroke-width="2.2" filter="url(#blur1)"/>
<path d="M50,132 C62,130 70,129 78,128.5 C86,129 94,130 106,132" fill="none" stroke="#b0b0b0" stroke-width="1.6" filter="url(#blur1)"/>
<path d="M30,140 L40,152 M40,137 L48,150 M118,137 L110,151 M128,140 L120,153" stroke="#777" stroke-width="1.2"/>
</g></g>
<g transform="translate(0,3.5)">
<path d="M35.0,126.5 C33.5,126.0 28.2,125.8 26.0,123.5 C23.8,121.2 22.0,117.2 21.5,113.0 C21.0,108.8 21.9,102.5 23.0,98.0 C24.1,93.5 26.9,90.3 28.0,86.0 C29.1,81.7 29.1,76.3 29.5,72.0 C29.9,67.7 30.1,63.5 30.5,60.0 C30.9,56.5 31.3,53.8 32.0,51.0 C32.7,48.2 33.3,45.8 34.5,43.5 C35.7,41.2 37.0,39.4 39.0,37.5 C41.0,35.6 43.2,33.2 46.5,32.0 C49.8,30.8 55.4,30.1 58.5,30.0 C61.6,29.9 63.1,30.7 65.0,31.5 C66.9,32.3 67.7,33.5 70.0,35.0 C72.3,36.5 76.2,40.3 79.0,40.5 C81.8,40.7 84.8,37.5 87.0,36.0 C89.2,34.5 89.0,32.5 92.0,31.5 C95.0,30.5 101.2,29.2 105.0,30.0 C108.8,30.8 112.3,33.8 115.0,36.0 C117.7,38.2 119.2,39.8 121.0,43.0 C122.8,46.2 124.8,50.5 126.0,55.0 C127.2,59.5 127.3,64.5 128.0,70.0 C128.7,75.5 128.7,83.0 130.0,88.0 C131.3,93.0 134.8,96.0 136.0,100.0 C137.2,104.0 137.7,108.7 137.5,112.0 C137.3,115.3 136.2,117.8 135.0,120.0 C133.8,122.2 132.0,123.9 130.0,125.0 C128.0,126.1 124.2,126.2 123.0,126.5" fill="none" stroke="#585858" stroke-width="1.9"/>
<path d="M26,91 C30,81 38,72 50,66" fill="none" stroke="#545454" stroke-width="2.8"/>
<path d="M104,65 C116,70 125,79 129,89" fill="none" stroke="#545454" stroke-width="2.8"/>
<path d="M50,66 C62,63 94,62 104,65" fill="none" stroke="#6a6a6a" stroke-width="1.2"/>
<path d="M33,88 C38,92 42,97 41,103" fill="none" stroke="#6a6a6a" stroke-width="1.3"/>
<path d="M123,88 C119,92 115,97 115,102" fill="none" stroke="#6a6a6a" stroke-width="1.3"/>
<line x1="65" y1="62.5" x2="91" y2="62.5" stroke="#c6c6c6" stroke-width="1.4"/>
<line x1="77.7" y1="88" x2="77.7" y2="112" stroke="#b0b0b0" stroke-width="2.6" filter="url(#blur1)"/>
<circle cx="68" cy="64.5" r="1.7" fill="#474747"/>
<circle cx="86.7" cy="64.5" r="1.7" fill="#474747"/>
<circle cx="70" cy="87.5" r="1.7" fill="#474747"/>
<circle cx="85" cy="87.5" r="1.7" fill="#474747"/>
<path d="M38,101 C40,106 42,112 43.5,118 C45,123 46,127 45,129 M118,99 C116,105 114,111 113,116 C112,121 111,125 111,128" fill="none" stroke="#c2c2c2" stroke-width="2.1" filter="url(#blur1)"/>
<ellipse cx="43.5" cy="118" rx="2" ry="3.5" fill="#dedede" filter="url(#blur1)"/>
<ellipse cx="112.8" cy="116" rx="2" ry="3.5" fill="#dedede" filter="url(#blur1)"/>
<ellipse cx="77" cy="128" rx="3" ry="2" fill="#dedede" filter="url(#blur1)"/>
<path d="M27.5,90 C30,89 32,88 33,88 M125,89 C127,90 129,91 131,93" stroke="#b0b0b0" stroke-width="1.5" fill="none"/>
</g>
</g>
</g></svg>
<text x="280.9" y="691.5" font-size="27.5" fill="#f0f0f0" textLength="12.400000000000011" lengthAdjust="spacingAndGlyphs">F</text>
<text x="327" y="697" font-size="23.5" fill="#050505" stroke="#050505" stroke-width="0.6" textLength="55" lengthAdjust="spacingAndGlyphs">GEPR</text>
<rect x="436.25" y="666.75" width="155.64999999999998" height="156.05" fill="#000"/>
<rect x="436.25" y="822.8" width="155.64999999999998" height="1.2" fill="#8e8e8e"/>
<svg x="436.25" y="666.75" width="155.64999999999998" height="156.05" overflow="hidden"><g transform="translate(0,0) scale(1.0,1)">
<clipPath id="clipG"><path d="M104.8,-2.0 C104.8,-1.4 104.1,0.4 104.8,1.8 C105.4,3.1 106.9,5.0 108.5,6.2 C110.1,7.5 112.6,7.9 114.5,9.2 C116.4,10.6 117.9,12.5 119.8,14.5 C121.6,16.5 124.0,19.1 125.8,21.2 C127.5,23.4 128.9,25.2 130.2,27.2 C131.6,29.2 132.8,31.0 134.0,33.2 C135.2,35.5 136.6,38.2 137.8,40.8 C138.9,43.2 139.9,45.8 140.8,48.2 C141.6,50.8 142.3,53.5 143.0,55.8 C143.7,58.0 144.2,58.3 145.2,62.0 C146.1,65.7 147.8,72.3 148.7,77.9 C149.6,83.5 150.3,90.2 150.5,95.5 C150.7,100.8 150.6,105.4 149.9,109.7 C149.2,114.0 147.7,117.9 146.3,121.4 C144.9,124.9 143.6,128.2 141.6,130.8 C139.6,133.4 137.3,135.5 134.6,136.7 C131.9,137.9 128.1,138.0 125.2,137.9 C122.3,137.8 118.6,135.6 117.0,136.0 C115.4,136.4 114.8,138.6 115.8,140.2 C116.7,141.9 120.4,144.3 122.8,146.1 C125.2,147.9 128.5,148.8 129.9,150.8 C131.3,152.8 130.8,156.8 131.0,158.0 L22.7,158 C22.8,156.7 22.9,152.2 23.0,150.0 C23.1,147.8 22.9,146.4 23.3,145.0 C23.7,143.6 24.0,142.8 25.6,141.4 C27.2,140.0 31.1,137.9 32.7,136.7 C34.3,135.5 36.2,134.9 35.0,134.4 C33.8,133.9 28.5,134.6 25.6,133.8 C22.7,133.0 19.8,131.8 17.4,129.7 C15.0,127.6 13.3,124.7 11.5,121.4 C9.7,118.1 7.8,113.8 6.8,109.7 C5.8,105.6 5.7,100.6 5.6,97.0 C5.5,93.4 5.9,91.2 6.3,87.9 C6.7,84.6 7.1,80.6 7.8,76.9 C8.4,73.2 9.0,69.6 9.9,66.0 C10.9,62.4 12.3,58.7 13.6,55.1 C14.9,51.5 16.5,47.8 17.9,44.2 C19.4,40.6 21.1,35.8 22.3,33.2 C23.5,30.7 24.0,30.5 25.2,28.8 C26.5,27.0 28.1,24.6 29.8,22.8 C31.4,20.9 33.2,19.2 35.0,17.5 C36.8,15.8 38.4,14.0 40.2,12.2 C42.1,10.5 44.2,8.8 46.2,7.0 C48.2,5.2 51.2,3.2 52.2,1.8 C53.2,0.2 52.2,-1.4 52.2,-2.0Z"/></clipPath>
<g filter="url(#soft)">
<path d="M104.8,-2.0 C104.8,-1.4 104.1,0.4 104.8,1.8 C105.4,3.1 106.9,5.0 108.5,6.2 C110.1,7.5 112.6,7.9 114.5,9.2 C116.4,10.6 117.9,12.5 119.8,14.5 C121.6,16.5 124.0,19.1 125.8,21.2 C127.5,23.4 128.9,25.2 130.2,27.2 C131.6,29.2 132.8,31.0 134.0,33.2 C135.2,35.5 136.6,38.2 137.8,40.8 C138.9,43.2 139.9,45.8 140.8,48.2 C141.6,50.8 142.3,53.5 143.0,55.8 C143.7,58.0 144.2,58.3 145.2,62.0 C146.1,65.7 147.8,72.3 148.7,77.9 C149.6,83.5 150.3,90.2 150.5,95.5 C150.7,100.8 150.6,105.4 149.9,109.7 C149.2,114.0 147.7,117.9 146.3,121.4 C144.9,124.9 143.6,128.2 141.6,130.8 C139.6,133.4 137.3,135.5 134.6,136.7 C131.9,137.9 128.1,138.0 125.2,137.9 C122.3,137.8 118.6,135.6 117.0,136.0 C115.4,136.4 114.8,138.6 115.8,140.2 C116.7,141.9 120.4,144.3 122.8,146.1 C125.2,147.9 128.5,148.8 129.9,150.8 C131.3,152.8 130.8,156.8 131.0,158.0 L22.7,158 C22.8,156.7 22.9,152.2 23.0,150.0 C23.1,147.8 22.9,146.4 23.3,145.0 C23.7,143.6 24.0,142.8 25.6,141.4 C27.2,140.0 31.1,137.9 32.7,136.7 C34.3,135.5 36.2,134.9 35.0,134.4 C33.8,133.9 28.5,134.6 25.6,133.8 C22.7,133.0 19.8,131.8 17.4,129.7 C15.0,127.6 13.3,124.7 11.5,121.4 C9.7,118.1 7.8,113.8 6.8,109.7 C5.8,105.6 5.7,100.6 5.6,97.0 C5.5,93.4 5.9,91.2 6.3,87.9 C6.7,84.6 7.1,80.6 7.8,76.9 C8.4,73.2 9.0,69.6 9.9,66.0 C10.9,62.4 12.3,58.7 13.6,55.1 C14.9,51.5 16.5,47.8 17.9,44.2 C19.4,40.6 21.1,35.8 22.3,33.2 C23.5,30.7 24.0,30.5 25.2,28.8 C26.5,27.0 28.1,24.6 29.8,22.8 C31.4,20.9 33.2,19.2 35.0,17.5 C36.8,15.8 38.4,14.0 40.2,12.2 C42.1,10.5 44.2,8.8 46.2,7.0 C48.2,5.2 51.2,3.2 52.2,1.8 C53.2,0.2 52.2,-1.4 52.2,-2.0Z" fill="#828282"/>
<g clip-path="url(#clipG)"><g transform="translate(-1,3.5) scale(1.02,1)">
<path d="M35.0,126.5 C33.5,126.0 28.2,125.8 26.0,123.5 C23.8,121.2 22.0,117.2 21.5,113.0 C21.0,108.8 21.9,102.5 23.0,98.0 C24.1,93.5 26.9,90.3 28.0,86.0 C29.1,81.7 29.1,76.3 29.5,72.0 C29.9,67.7 30.1,63.5 30.5,60.0 C30.9,56.5 31.3,53.8 32.0,51.0 C32.7,48.2 33.3,45.8 34.5,43.5 C35.7,41.2 37.0,39.4 39.0,37.5 C41.0,35.6 43.2,33.2 46.5,32.0 C49.8,30.8 55.4,30.1 58.5,30.0 C61.6,29.9 63.1,30.7 65.0,31.5 C66.9,32.3 67.7,33.5 70.0,35.0 C72.3,36.5 76.2,40.3 79.0,40.5 C81.8,40.7 84.8,37.5 87.0,36.0 C89.2,34.5 89.0,32.5 92.0,31.5 C95.0,30.5 101.2,29.2 105.0,30.0 C108.8,30.8 112.3,33.8 115.0,36.0 C117.7,38.2 119.2,39.8 121.0,43.0 C122.8,46.2 124.8,50.5 126.0,55.0 C127.2,59.5 127.3,64.5 128.0,70.0 C128.7,75.5 128.7,83.0 130.0,88.0 C131.3,93.0 134.8,96.0 136.0,100.0 C137.2,104.0 137.7,108.7 137.5,112.0 C137.3,115.3 136.2,117.8 135.0,120.0 C133.8,122.2 132.0,123.9 130.0,125.0 C128.0,126.1 124.2,126.2 123.0,126.5 L123,140 L35,140 Z" fill="#767676"/>
<path d="M34,60 C40,40 55,33 66,34 L79,41 L91,34 C104,33 118,40 124,60 L124,80 L34,80 Z" fill="#787878" filter="url(#blur2)"/>
<path d="M27,92 C34,74 52,66 78,64 C104,66 122,74 130,92 L124,134 L32,134 Z" fill="#757575" filter="url(#blur2)"/>
<ellipse cx="62" cy="112" rx="9" ry="16" fill="#696969" filter="url(#blur3)"/>
<ellipse cx="95" cy="112" rx="9" ry="16" fill="#696969" filter="url(#blur3)"/>
<ellipse cx="53" cy="127" rx="5" ry="4" fill="#5e5e5e" filter="url(#blur2)"/>
<ellipse cx="102" cy="127" rx="5" ry="4" fill="#5e5e5e" filter="url(#blur2)"/>
<ellipse cx="78" cy="80" rx="20" ry="9" fill="#7a7a7a" filter="url(#blur3)"/>
<path d="M23,96 C26,90 32,88 37,92 C41,98 42,112 42,120 C40,126 30,127 25,124 C21,118 21,104 23,96 Z" fill="#8c8c8c" filter="url(#blur1)"/>
<path d="M135,96 C132,90 126,88 121,92 C117,98 115,112 115,120 C117,126 127,127 132,124 C136,118 136,104 135,96 Z" fill="#8c8c8c" filter="url(#blur1)"/>
<path d="M64,38 L78,46 L93,38 L104,62 L52,62 Z" fill="#828282" filter="url(#blur2)"/>
<path d="M70,40 L60,61 M87,40 L96,61" stroke="#a0a0a0" stroke-width="2.4" filter="url(#blur1)"/>
<rect x="76.5" y="-2" width="3" height="30" fill="#8a8a8a" filter="url(#blur1)"/>
<path d="M20,142 C40,134 60,130 78,129 C96,130 116,134 138,144 L140,158 L18,158 Z" fill="#878787"/>
<path d="M34,148 C55,144 100,144 124,148 L126,156 L32,156 Z" fill="#4e4e4e" filter="url(#blur1)"/>
<path d="M14,133 C18,138 22,141 28,141 C36,138 40,136 44,134 M46,127 C44,131 42,134 40,135 M113,126 C115,131 117,134 119,135 M140,134 C134,140 128,141 122,139 C118,137 116,136 114,134" fill="none" stroke="#c8c8c8" stroke-width="2.2" filter="url(#blur1)"/>
<path d="M50,132 C62,130 70,129 78,128.5 C86,129 94,130 106,132" fill="none" stroke="#b0b0b0" stroke-width="1.6" filter="url(#blur1)"/>
<path d="M30,140 L40,152 M40,137 L48,150 M118,137 L110,151 M128,140 L120,153" stroke="#777" stroke-width="1.2"/>
</g></g>
<g transform="translate(-1,3.5) scale(1.02,1)">
<path d="M35.0,126.5 C33.5,126.0 28.2,125.8 26.0,123.5 C23.8,121.2 22.0,117.2 21.5,113.0 C21.0,108.8 21.9,102.5 23.0,98.0 C24.1,93.5 26.9,90.3 28.0,86.0 C29.1,81.7 29.1,76.3 29.5,72.0 C29.9,67.7 30.1,63.5 30.5,60.0 C30.9,56.5 31.3,53.8 32.0,51.0 C32.7,48.2 33.3,45.8 34.5,43.5 C35.7,41.2 37.0,39.4 39.0,37.5 C41.0,35.6 43.2,33.2 46.5,32.0 C49.8,30.8 55.4,30.1 58.5,30.0 C61.6,29.9 63.1,30.7 65.0,31.5 C66.9,32.3 67.7,33.5 70.0,35.0 C72.3,36.5 76.2,40.3 79.0,40.5 C81.8,40.7 84.8,37.5 87.0,36.0 C89.2,34.5 89.0,32.5 92.0,31.5 C95.0,30.5 101.2,29.2 105.0,30.0 C108.8,30.8 112.3,33.8 115.0,36.0 C117.7,38.2 119.2,39.8 121.0,43.0 C122.8,46.2 124.8,50.5 126.0,55.0 C127.2,59.5 127.3,64.5 128.0,70.0 C128.7,75.5 128.7,83.0 130.0,88.0 C131.3,93.0 134.8,96.0 136.0,100.0 C137.2,104.0 137.7,108.7 137.5,112.0 C137.3,115.3 136.2,117.8 135.0,120.0 C133.8,122.2 132.0,123.9 130.0,125.0 C128.0,126.1 124.2,126.2 123.0,126.5" fill="none" stroke="#585858" stroke-width="1.9"/>
<path d="M26,91 C30,81 38,72 50,66" fill="none" stroke="#545454" stroke-width="2.8"/>
<path d="M104,65 C116,70 125,79 129,89" fill="none" stroke="#545454" stroke-width="2.8"/>
<path d="M50,66 C62,63 94,62 104,65" fill="none" stroke="#6a6a6a" stroke-width="1.2"/>
<path d="M33,88 C38,92 42,97 41,103" fill="none" stroke="#6a6a6a" stroke-width="1.3"/>
<path d="M123,88 C119,92 115,97 115,102" fill="none" stroke="#6a6a6a" stroke-width="1.3"/>
<line x1="65" y1="62.5" x2="91" y2="62.5" stroke="#c6c6c6" stroke-width="1.4"/>
<line x1="77.7" y1="88" x2="77.7" y2="112" stroke="#b0b0b0" stroke-width="2.6" filter="url(#blur1)"/>
<circle cx="68" cy="64.5" r="1.7" fill="#474747"/>
<circle cx="86.7" cy="64.5" r="1.7" fill="#474747"/>
<circle cx="70" cy="87.5" r="1.7" fill="#474747"/>
<circle cx="85" cy="87.5" r="1.7" fill="#474747"/>
<path d="M38,101 C40,106 42,112 43.5,118 C45,123 46,127 45,129 M118,99 C116,105 114,111 113,116 C112,121 111,125 111,128" fill="none" stroke="#c2c2c2" stroke-width="2.1" filter="url(#blur1)"/>
<ellipse cx="43.5" cy="118" rx="2" ry="3.5" fill="#dedede" filter="url(#blur1)"/>
<ellipse cx="112.8" cy="116" rx="2" ry="3.5" fill="#dedede" filter="url(#blur1)"/>
<ellipse cx="77" cy="128" rx="3" ry="2" fill="#dedede" filter="url(#blur1)"/>
<path d="M27.5,90 C30,89 32,88 33,88 M125,89 C127,90 129,91 131,93" stroke="#b0b0b0" stroke-width="1.5" fill="none"/>
</g>
</g>
</g></svg>
<text x="440.0" y="692.5" font-size="27.5" fill="#f0f0f0" textLength="19.6" lengthAdjust="spacingAndGlyphs">G</text>
<text x="493.8" y="697.5" font-size="23.5" fill="#050505" stroke="#050505" stroke-width="0.6" textLength="39.19999999999999" lengthAdjust="spacingAndGlyphs">WIS</text>
<rect x="594.5" y="666.75" width="155.5" height="156.05" fill="#000"/>
<rect x="594.5" y="822.8" width="155.5" height="1.2" fill="#8e8e8e"/>
<svg x="594.5" y="666.75" width="155.5" height="156.05" overflow="hidden"><g transform="translate(0,0) scale(1.0,1)">
<clipPath id="clipH"><path d="M97.5,-2.0 C97.5,-1.5 96.7,-0.1 97.5,1.2 C98.3,2.6 100.8,4.6 102.5,6.2 C104.2,7.9 105.8,9.4 107.5,11.2 C109.2,13.1 110.8,15.2 112.5,17.2 C114.2,19.2 115.8,21.1 117.5,23.2 C119.2,25.4 120.8,27.9 122.5,30.2 C124.2,32.6 126.0,34.9 127.5,37.2 C129.0,39.6 130.2,41.8 131.5,44.2 C132.8,46.8 134.3,49.4 135.5,52.2 C136.7,55.1 137.2,57.0 138.5,61.2 C139.8,65.5 141.8,72.2 143.1,77.9 C144.4,83.6 145.6,90.2 146.1,95.5 C146.6,100.8 146.7,105.4 146.1,109.7 C145.5,114.0 144.2,117.9 142.6,121.4 C141.0,124.9 138.7,128.4 136.7,130.8 C134.7,133.2 133.2,134.6 130.8,135.6 C128.5,136.6 123.6,135.5 122.6,136.7 C121.6,137.9 123.9,140.4 124.9,142.6 C125.9,144.8 127.6,147.1 128.4,149.7 C129.2,152.3 129.4,156.6 129.6,158.0 L28.9,158 C28.7,156.4 27.5,150.9 27.7,148.5 C27.9,146.1 28.3,145.6 30.1,143.8 C31.9,142.1 35.9,140.1 38.3,138.0 C40.6,135.9 45.2,131.2 44.2,131.0 C43.2,130.8 35.7,135.9 32.4,136.7 C29.1,137.5 26.8,137.0 24.2,135.6 C21.6,134.2 19.1,130.9 17.1,128.5 C15.1,126.1 13.7,124.5 12.4,121.4 C11.1,118.3 10.1,114.0 9.5,109.7 C8.9,105.4 8.8,99.8 8.9,95.5 C9.0,91.2 9.5,87.7 10.1,83.8 C10.7,79.9 11.5,75.8 12.4,72.0 C13.3,68.2 14.3,64.7 15.5,61.2 C16.7,57.8 18.3,54.2 19.5,51.2 C20.7,48.2 21.3,45.8 22.5,43.2 C23.7,40.8 25.0,38.6 26.5,36.2 C28.0,33.9 29.7,31.6 31.5,29.2 C33.3,26.9 35.5,24.6 37.5,22.2 C39.5,19.9 41.5,17.8 43.5,15.2 C45.5,12.8 47.5,9.6 49.5,7.2 C51.5,4.9 54.5,2.8 55.5,1.2 C56.5,-0.3 55.5,-1.5 55.5,-2.0Z"/></clipPath>
<g filter="url(#soft)">
<path d="M97.5,-2.0 C97.5,-1.5 96.7,-0.1 97.5,1.2 C98.3,2.6 100.8,4.6 102.5,6.2 C104.2,7.9 105.8,9.4 107.5,11.2 C109.2,13.1 110.8,15.2 112.5,17.2 C114.2,19.2 115.8,21.1 117.5,23.2 C119.2,25.4 120.8,27.9 122.5,30.2 C124.2,32.6 126.0,34.9 127.5,37.2 C129.0,39.6 130.2,41.8 131.5,44.2 C132.8,46.8 134.3,49.4 135.5,52.2 C136.7,55.1 137.2,57.0 138.5,61.2 C139.8,65.5 141.8,72.2 143.1,77.9 C144.4,83.6 145.6,90.2 146.1,95.5 C146.6,100.8 146.7,105.4 146.1,109.7 C145.5,114.0 144.2,117.9 142.6,121.4 C141.0,124.9 138.7,128.4 136.7,130.8 C134.7,133.2 133.2,134.6 130.8,135.6 C128.5,136.6 123.6,135.5 122.6,136.7 C121.6,137.9 123.9,140.4 124.9,142.6 C125.9,144.8 127.6,147.1 128.4,149.7 C129.2,152.3 129.4,156.6 129.6,158.0 L28.9,158 C28.7,156.4 27.5,150.9 27.7,148.5 C27.9,146.1 28.3,145.6 30.1,143.8 C31.9,142.1 35.9,140.1 38.3,138.0 C40.6,135.9 45.2,131.2 44.2,131.0 C43.2,130.8 35.7,135.9 32.4,136.7 C29.1,137.5 26.8,137.0 24.2,135.6 C21.6,134.2 19.1,130.9 17.1,128.5 C15.1,126.1 13.7,124.5 12.4,121.4 C11.1,118.3 10.1,114.0 9.5,109.7 C8.9,105.4 8.8,99.8 8.9,95.5 C9.0,91.2 9.5,87.7 10.1,83.8 C10.7,79.9 11.5,75.8 12.4,72.0 C13.3,68.2 14.3,64.7 15.5,61.2 C16.7,57.8 18.3,54.2 19.5,51.2 C20.7,48.2 21.3,45.8 22.5,43.2 C23.7,40.8 25.0,38.6 26.5,36.2 C28.0,33.9 29.7,31.6 31.5,29.2 C33.3,26.9 35.5,24.6 37.5,22.2 C39.5,19.9 41.5,17.8 43.5,15.2 C45.5,12.8 47.5,9.6 49.5,7.2 C51.5,4.9 54.5,2.8 55.5,1.2 C56.5,-0.3 55.5,-1.5 55.5,-2.0Z" fill="#828282"/>
<g clip-path="url(#clipH)"><g transform="translate(3,3.5) scale(0.944,1)">
<path d="M35.0,126.5 C33.5,126.0 28.2,125.8 26.0,123.5 C23.8,121.2 22.0,117.2 21.5,113.0 C21.0,108.8 21.9,102.5 23.0,98.0 C24.1,93.5 26.9,90.3 28.0,86.0 C29.1,81.7 29.1,76.3 29.5,72.0 C29.9,67.7 30.1,63.5 30.5,60.0 C30.9,56.5 31.3,53.8 32.0,51.0 C32.7,48.2 33.3,45.8 34.5,43.5 C35.7,41.2 37.0,39.4 39.0,37.5 C41.0,35.6 43.2,33.2 46.5,32.0 C49.8,30.8 55.4,30.1 58.5,30.0 C61.6,29.9 63.1,30.7 65.0,31.5 C66.9,32.3 67.7,33.5 70.0,35.0 C72.3,36.5 76.2,40.3 79.0,40.5 C81.8,40.7 84.8,37.5 87.0,36.0 C89.2,34.5 89.0,32.5 92.0,31.5 C95.0,30.5 101.2,29.2 105.0,30.0 C108.8,30.8 112.3,33.8 115.0,36.0 C117.7,38.2 119.2,39.8 121.0,43.0 C122.8,46.2 124.8,50.5 126.0,55.0 C127.2,59.5 127.3,64.5 128.0,70.0 C128.7,75.5 128.7,83.0 130.0,88.0 C131.3,93.0 134.8,96.0 136.0,100.0 C137.2,104.0 137.7,108.7 137.5,112.0 C137.3,115.3 136.2,117.8 135.0,120.0 C133.8,122.2 132.0,123.9 130.0,125.0 C128.0,126.1 124.2,126.2 123.0,126.5 L123,140 L35,140 Z" fill="#767676"/>
<path d="M34,60 C40,40 55,33 66,34 L79,41 L91,34 C104,33 118,40 124,60 L124,80 L34,80 Z" fill="#787878" filter="url(#blur2)"/>
<path d="M27,92 C34,74 52,66 78,64 C104,66 122,74 130,92 L124,134 L32,134 Z" fill="#757575" filter="url(#blur2)"/>
<ellipse cx="62" cy="112" rx="9" ry="16" fill="#696969" filter="url(#blur3)"/>
<ellipse cx="95" cy="112" rx="9" ry="16" fill="#696969" filter="url(#blur3)"/>
<ellipse cx="53" cy="127" rx="5" ry="4" fill="#5e5e5e" filter="url(#blur2)"/>
<ellipse cx="102" cy="127" rx="5" ry="4" fill="#5e5e5e" filter="url(#blur2)"/>
<ellipse cx="78" cy="80" rx="20" ry="9" fill="#7a7a7a" filter="url(#blur3)"/>
<path d="M23,96 C26,90 32,88 37,92 C41,98 42,112 42,120 C40,126 30,127 25,124 C21,118 21,104 23,96 Z" fill="#8c8c8c" filter="url(#blur1)"/>
<path d="M135,96 C132,90 126,88 121,92 C117,98 115,112 115,120 C117,126 127,127 132,124 C136,118 136,104 135,96 Z" fill="#8c8c8c" filter="url(#blur1)"/>
<path d="M64,38 L78,46 L93,38 L104,62 L52,62 Z" fill="#828282" filter="url(#blur2)"/>
<path d="M70,40 L60,61 M87,40 L96,61" stroke="#a0a0a0" stroke-width="2.4" filter="url(#blur1)"/>
<rect x="76.5" y="-2" width="3" height="30" fill="#8a8a8a" filter="url(#blur1)"/>
<path d="M20,142 C40,134 60,130 78,129 C96,130 116,134 138,144 L140,158 L18,158 Z" fill="#878787"/>
<path d="M34,148 C55,144 100,144 124,148 L126,156 L32,156 Z" fill="#4e4e4e" filter="url(#blur1)"/>
<path d="M14,133 C18,138 22,141 28,141 C36,138 40,136 44,134 M46,127 C44,131 42,134 40,135 M113,126 C115,131 117,134 119,135 M140,134 C134,140 128,141 122,139 C118,137 116,136 114,134" fill="none" stroke="#c8c8c8" stroke-width="2.2" filter="url(#blur1)"/>
<path d="M50,132 C62,130 70,129 78,128.5 C86,129 94,130 106,132" fill="none" stroke="#b0b0b0" stroke-width="1.6" filter="url(#blur1)"/>
<path d="M30,140 L40,152 M40,137 L48,150 M118,137 L110,151 M128,140 L120,153" stroke="#777" stroke-width="1.2"/>
</g></g>
<g transform="translate(3,3.5) scale(0.944,1)">
<path d="M35.0,126.5 C33.5,126.0 28.2,125.8 26.0,123.5 C23.8,121.2 22.0,117.2 21.5,113.0 C21.0,108.8 21.9,102.5 23.0,98.0 C24.1,93.5 26.9,90.3 28.0,86.0 C29.1,81.7 29.1,76.3 29.5,72.0 C29.9,67.7 30.1,63.5 30.5,60.0 C30.9,56.5 31.3,53.8 32.0,51.0 C32.7,48.2 33.3,45.8 34.5,43.5 C35.7,41.2 37.0,39.4 39.0,37.5 C41.0,35.6 43.2,33.2 46.5,32.0 C49.8,30.8 55.4,30.1 58.5,30.0 C61.6,29.9 63.1,30.7 65.0,31.5 C66.9,32.3 67.7,33.5 70.0,35.0 C72.3,36.5 76.2,40.3 79.0,40.5 C81.8,40.7 84.8,37.5 87.0,36.0 C89.2,34.5 89.0,32.5 92.0,31.5 C95.0,30.5 101.2,29.2 105.0,30.0 C108.8,30.8 112.3,33.8 115.0,36.0 C117.7,38.2 119.2,39.8 121.0,43.0 C122.8,46.2 124.8,50.5 126.0,55.0 C127.2,59.5 127.3,64.5 128.0,70.0 C128.7,75.5 128.7,83.0 130.0,88.0 C131.3,93.0 134.8,96.0 136.0,100.0 C137.2,104.0 137.7,108.7 137.5,112.0 C137.3,115.3 136.2,117.8 135.0,120.0 C133.8,122.2 132.0,123.9 130.0,125.0 C128.0,126.1 124.2,126.2 123.0,126.5" fill="none" stroke="#585858" stroke-width="1.9"/>
<path d="M26,91 C30,81 38,72 50,66" fill="none" stroke="#545454" stroke-width="2.8"/>
<path d="M104,65 C116,70 125,79 129,89" fill="none" stroke="#545454" stroke-width="2.8"/>
<path d="M50,66 C62,63 94,62 104,65" fill="none" stroke="#6a6a6a" stroke-width="1.2"/>
<path d="M33,88 C38,92 42,97 41,103" fill="none" stroke="#6a6a6a" stroke-width="1.3"/>
<path d="M123,88 C119,92 115,97 115,102" fill="none" stroke="#6a6a6a" stroke-width="1.3"/>
<line x1="65" y1="62.5" x2="91" y2="62.5" stroke="#c6c6c6" stroke-width="1.4"/>
<line x1="77.7" y1="88" x2="77.7" y2="112" stroke="#b0b0b0" stroke-width="2.6" filter="url(#blur1)"/>
<circle cx="68" cy="64.5" r="1.7" fill="#474747"/>
<circle cx="86.7" cy="64.5" r="1.7" fill="#474747"/>
<circle cx="70" cy="87.5" r="1.7" fill="#474747"/>
<circle cx="85" cy="87.5" r="1.7" fill="#474747"/>
<path d="M38,101 C40,106 42,112 43.5,118 C45,123 46,127 45,129 M118,99 C116,105 114,111 113,116 C112,121 111,125 111,128" fill="none" stroke="#c2c2c2" stroke-width="2.1" filter="url(#blur1)"/>
<ellipse cx="43.5" cy="118" rx="2" ry="3.5" fill="#dedede" filter="url(#blur1)"/>
<ellipse cx="112.8" cy="116" rx="2" ry="3.5" fill="#dedede" filter="url(#blur1)"/>
<ellipse cx="77" cy="128" rx="3" ry="2" fill="#dedede" filter="url(#blur1)"/>
<path d="M27.5,90 C30,89 32,88 33,88 M125,89 C127,90 129,91 131,93" stroke="#b0b0b0" stroke-width="1.5" fill="none"/>
</g>
<line x1="-1" y1="118" x2="10" y2="117.5" stroke="#6a6a6a" stroke-width="1"/>
<g transform="translate(3,0) scale(0.944,1)">
<path d="M68,44 L88,44 L100,67 L58,67 Z" fill="#8e8e8e" filter="url(#blur1)"/>
<path d="M66,39 L73.5,43 L61.5,67.5 L56.5,67.5 Z M82.5,43 L90.5,39 L102,66.5 L98,67 Z" fill="#ececec" filter="url(#blur1)"/>
<line x1="62" y1="69" x2="94" y2="69" stroke="#eaeaea" stroke-width="2.4" filter="url(#blur1)"/>
<path d="M72,71 L78,74 L84,71" stroke="#d8d8d8" stroke-width="2.2" fill="none"/>
<line x1="77.6" y1="90" x2="77.6" y2="108" stroke="#eee" stroke-width="2.4"/>
<path d="M22,104 C23,97 27,92 33,90.5 M123,89 C128,92 131,97 132,104" fill="none" stroke="#f0f0f0" stroke-width="2.2"/>
</g>
</g>
</g></svg>
<text x="602.0" y="692" font-size="27.5" fill="#f0f0f0" textLength="19.200000000000024" lengthAdjust="spacingAndGlyphs">H</text>
<g fill="#c0282a" stroke="#c0282a" transform="translate(594.5,667)"><line x1="36.6" y1="49.4" x2="58" y2="49.4" stroke-width="2.5"/><path d="M64,49.4 L53.5,44.8 L55,49.4 L53.5,54 Z" stroke="none"/><line x1="9.6" y1="77" x2="21.5" y2="87.5" stroke-width="2.5"/><path d="M27,92.5 L15.7,88.4 L21,86.5 L21.8,81 Z" stroke="none"/></g>
<text x="645.6" y="697" font-size="23.5" fill="#050505" stroke="#050505" stroke-width="0.6" textLength="48.799999999999955" lengthAdjust="spacingAndGlyphs">WAR</text>
</svg></body></html>
